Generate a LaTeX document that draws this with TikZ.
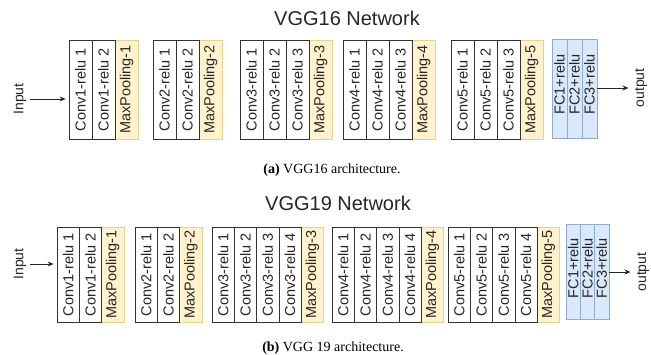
\documentclass[tikz,border=0pt]{standalone}
\usepackage{fontspec}
\setmainfont{Liberation Sans}
\newfontfamily\captionserif{Liberation Serif}
\usetikzlibrary{arrows.meta,positioning}
\definecolor{poolfill}{HTML}{FFF2CC}
\definecolor{poolline}{HTML}{E6D28F}
\definecolor{fcfill}{HTML}{DAE8FC}
\definecolor{fcline}{HTML}{8FAAD3}
\tikzset{
  conv cell/.style={draw=black!80,fill=white,line width=0.8pt,rotate=90,minimum width=99pt,minimum height=23pt,inner sep=0pt,text=black!85,font=\fontsize{14.5}{15}\selectfont},
  pool cell/.style={conv cell,draw=poolline,fill=poolfill},
  fc cell/.style={conv cell,draw=fcline,fill=fcfill,minimum height=15pt},
  net title/.style={text=black!85,font=\fontsize{20}{22}\selectfont},
  side label/.style={rotate=90,text=black!85,font=\fontsize{14}{15}\selectfont},
  flow arrow/.style={-{Stealth[length=6pt,width=5pt]},line width=0.8pt,black!85},
  sub caption/.style={font=\captionserif\fontsize{14}{16}\selectfont},
}
\begin{document}
\begin{tikzpicture}[x=1pt,y=-1pt]
  \useasboundingbox (0,0) rectangle (651,355);
  % (a) VGG16
  \node[net title] (t16) at (347,18) {VGG16 Network};
  \foreach \b/\x/\n in {1/69/2,2/153/2,3/240/3,4/343/3,5/451/3} {
    \node[pool cell] (a\b-p) at ({\x+(\n+0.5)*23},89.5) {MaxPooling-\b};
    \foreach \i in {1,...,\n}
      \node[conv cell] (a\b-\i) at ({\x+(\i-0.5)*23},89.5) {Conv\b-relu \i};
  }
  \foreach \i in {1,2,3}
    \node[fc cell] (afc-\i) at ({552+(\i-0.5)*15},88.5) {\hspace*{8pt}FC\i+relu};
  \node[side label] (in16) at (20,99) {Input};
  \node[side label] (out16) at (641,88) {output};
  \draw[flow arrow] (in16.south) -- ([xshift=-3pt]in16.south -| a1-1.north);
  \draw[flow arrow] (afc-3.south |- out16.north) -- ([xshift=-3pt]out16.north);
  \node[sub caption] (cap16) at (332,170) {\textbf{(a)} VGG16 architecture.};
  % (b) VGG19
  \node[net title] (t19) at (338,203) {VGG19 Network};
  \begin{scope}[conv cell/.append style={minimum width=95pt,minimum height=22.3pt}]
    \foreach \b/\x/\n in {1/57/2,2/135/2,3/212/4,4/332/4,5/448/4} {
      \node[pool cell] (b\b-p) at ({\x+(\n+0.5)*22.3},274.5) {MaxPooling-\b};
      \foreach \i in {1,...,\n}
        \node[conv cell] (b\b-\i) at ({\x+(\i-0.5)*22.3},274.5) {Conv\b-relu \i};
    }
    \foreach \i in {1,2,3}
      \node[fc cell,minimum height=14.3pt] (bfc-\i) at ({566+(\i-0.5)*14.3},272) {\hspace*{8pt}FC\i+relu};
  \end{scope}
  \node[side label] (in19) at (20,264) {Input};
  \node[side label] (out19) at (643,272) {output};
  \draw[flow arrow] (in19.south) -- ([xshift=-3pt]in19.south -| b1-1.north);
  \draw[flow arrow] (bfc-3.south |- out19.north) -- ([xshift=-3pt]out19.north);
  \node[sub caption] (cap19) at (333,348) {\textbf{(b)} VGG 19 architecture.};
\end{tikzpicture}
\end{document}
